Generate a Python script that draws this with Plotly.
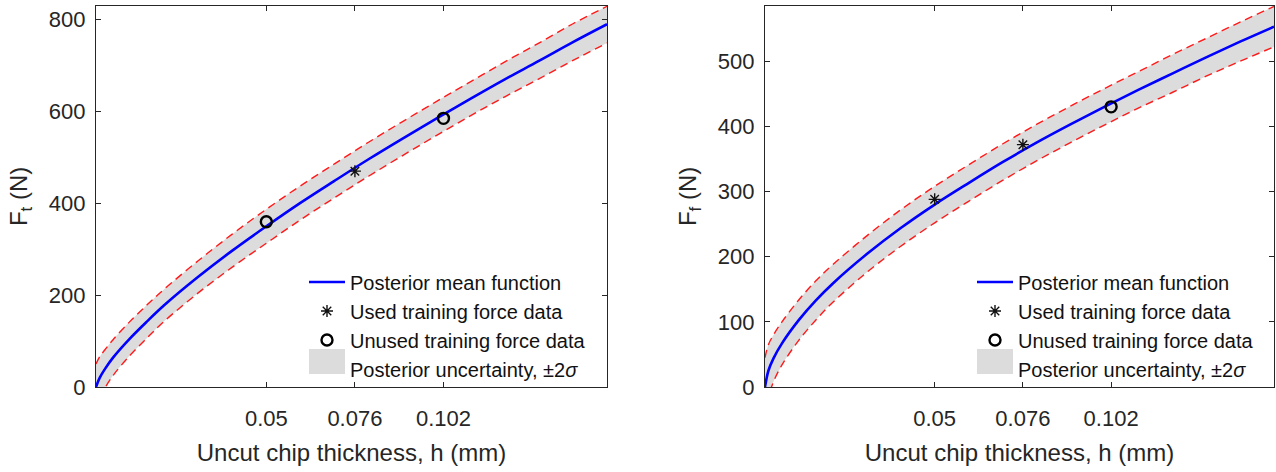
import plotly.graph_objects as go

# ---------------- data ----------------
h = [0.0, 0.001, 0.0025, 0.005, 0.01, 0.015, 0.02, 0.03, 0.04, 0.05, 0.06, 0.07,
     0.08, 0.09, 0.10, 0.11, 0.12, 0.13, 0.14, 0.15]

ft_mean = [0, 19, 38, 64, 106, 143, 178, 240, 297, 350, 401, 449,
           496, 541, 585, 628, 670, 710, 751, 790]
ft_upper = [50, 65, 80, 103, 143, 179, 213, 275, 333, 387, 438, 486,
            533, 578, 622, 665, 708, 749, 791, 829]
ft_lower = [-50, -27, -4, 25, 69, 107, 143, 205, 261, 313, 364, 412,
            459, 504, 548, 591, 632, 671, 711, 749]

ff_mean = [0, 25, 44, 67, 103, 133, 159, 204, 244, 280, 313, 345,
           375, 403, 430, 456, 481, 506, 530, 553]
ff_upper = [45, 65, 80, 100, 134, 163, 188, 232, 272, 308, 341, 373,
            403, 431, 458, 484, 510, 535, 560, 584]
ff_lower = [-45, -15, 8, 34, 72, 103, 130, 176, 216, 252, 285, 317,
            347, 375, 402, 428, 452, 477, 500, 522]

ft_used_h, ft_used_F = [0.076], [470]
ft_unused_h, ft_unused_F = [0.05, 0.102], [360, 585]
ff_used_h, ff_used_F = [0.05, 0.076], [288, 372]
ff_unused_h, ff_unused_F = [0.102], [430]

x_ticks = [0.05, 0.076, 0.102]
x_ticklabels = ["0.05", "0.076", "0.102"]
ft_yticks = [0, 200, 400, 600, 800]
ff_yticks = [0, 100, 200, 300, 400, 500]

names = ["Posterior mean function", "Used training force data",
         "Unused training force data", "Posterior uncertainty, \u00b12<i>\u03c3</i>"]

# ---------------- styling ----------------
FONT = "Liberation Sans, Arial, Helvetica, sans-serif"
TXT = "#262626"
BLUE = "#0000FF"
RED = "#FF1A1A"
GRAY = "#DCDCDC"
W, H = 1276, 472

fig = go.Figure()


def add_panel(xa, ya, mean, upper, lower, used_h, used_F, un_h, un_F, legend):
    # gray band
    fig.add_trace(go.Scatter(x=h, y=lower, xaxis=xa, yaxis=ya, mode="lines",
                             line=dict(width=0, color=GRAY, shape="spline"),
                             showlegend=False, hoverinfo="skip", legend=legend))
    fig.add_trace(go.Scatter(x=h, y=upper, xaxis=xa, yaxis=ya, mode="lines",
                             line=dict(width=0, color=GRAY, shape="spline"),
                             fill="tonexty", fillcolor=GRAY,
                             showlegend=False, hoverinfo="skip", legend=legend))
    # red dashed bounds
    for b in (lower, upper):
        fig.add_trace(go.Scatter(x=h, y=b, xaxis=xa, yaxis=ya, mode="lines",
                                 line=dict(width=1.4, color=RED, dash="8px,5px", shape="spline"),
                                 showlegend=False, hoverinfo="skip", legend=legend))
    # mean
    fig.add_trace(go.Scatter(x=h, y=mean, xaxis=xa, yaxis=ya, mode="lines",
                             line=dict(width=2.6, color=BLUE, shape="spline"),
                             name=names[0], legend=legend))
    fig.add_trace(go.Scatter(x=used_h, y=used_F, xaxis=xa, yaxis=ya, mode="markers",
                             marker=dict(symbol="asterisk-open", size=10, color="#111111",
                                         line=dict(width=1.4, color="#111111")),
                             name=names[1], legend=legend))
    fig.add_trace(go.Scatter(x=un_h, y=un_F, xaxis=xa, yaxis=ya, mode="markers",
                             marker=dict(symbol="circle-open", size=11, color="#000000",
                                         line=dict(width=2.4, color="#000000")),
                             name=names[2], legend=legend))
    fig.add_trace(go.Scatter(x=[None], y=[None], xaxis=xa, yaxis=ya, mode="lines",
                             line=dict(width=10, color=GRAY),
                             name=names[3], legend=legend))


add_panel("x", "y", ft_mean, ft_upper, ft_lower, ft_used_h, ft_used_F,
          ft_unused_h, ft_unused_F, "legend")
add_panel("x2", "y2", ff_mean, ff_upper, ff_lower, ff_used_h, ff_used_F,
          ff_unused_h, ff_unused_F, "legend2")


def ax_common():
    return dict(showline=True, linecolor=TXT, linewidth=1.3, mirror="allticks",
                ticks="inside", ticklen=5, tickwidth=1, tickcolor=TXT,
                showgrid=False, zeroline=False,
                tickfont=dict(family=FONT, size=22, color=TXT))


def xax(domain, anchor):
    d = ax_common()
    d.update(domain=domain, anchor=anchor, range=[0, 0.15],
             tickvals=x_ticks, ticktext=x_ticklabels, ticklabelstandoff=11,
             title=dict(text="Uncut chip thickness, h (mm)",
                        font=dict(family=FONT, size=24, color=TXT), standoff=14))
    return d


def yax(domain, anchor, rng, ticks, title):
    d = ax_common()
    d.update(domain=domain, anchor=anchor, range=rng, tickvals=ticks,
             ticklabelstandoff=5,
             title=dict(text=title, font=dict(family=FONT, size=24, color=TXT),
                        standoff=14))
    return d


leg_common = dict(bgcolor="rgba(0,0,0,0)", borderwidth=0, itemwidth=36,
                  traceorder="normal",
                  font=dict(family=FONT, size=20, color="#111111"),
                  xanchor="left", yanchor="top")

YDOM = [74 / H, 466 / H]
LEG_TOP = 270

# wide gray swatches behind the legend's uncertainty symbol
swatches = []
for x0 in (309, 977):
    swatches.append(dict(type="rect", xref="paper", yref="paper",
                         x0=x0 / W, x1=(x0 + 36) / W,
                         y0=(H - 379) / H, y1=(H - 359) / H,
                         fillcolor=GRAY, line=dict(width=0), layer="above"))

fig.update_layout(
    width=W, height=H,
    margin=dict(l=0, r=0, t=0, b=0),
    paper_bgcolor="white", plot_bgcolor="white",
    xaxis=xax([96 / W, 607 / W], "y"),
    xaxis2=xax([765 / W, 1274 / W], "y2"),
    yaxis=yax(YDOM, "x", [0, 830], ft_yticks, "F<sub>t</sub> (N)"),
    yaxis2=yax(YDOM, "x2", [0, 585], ff_yticks, "F<sub>f</sub> (N)"),
    legend=dict(leg_common, x=304 / W, y=(H - LEG_TOP) / H),
    legend2=dict(leg_common, x=972 / W, y=(H - LEG_TOP) / H),
    shapes=swatches,
)

fig.write_html("out.html")
